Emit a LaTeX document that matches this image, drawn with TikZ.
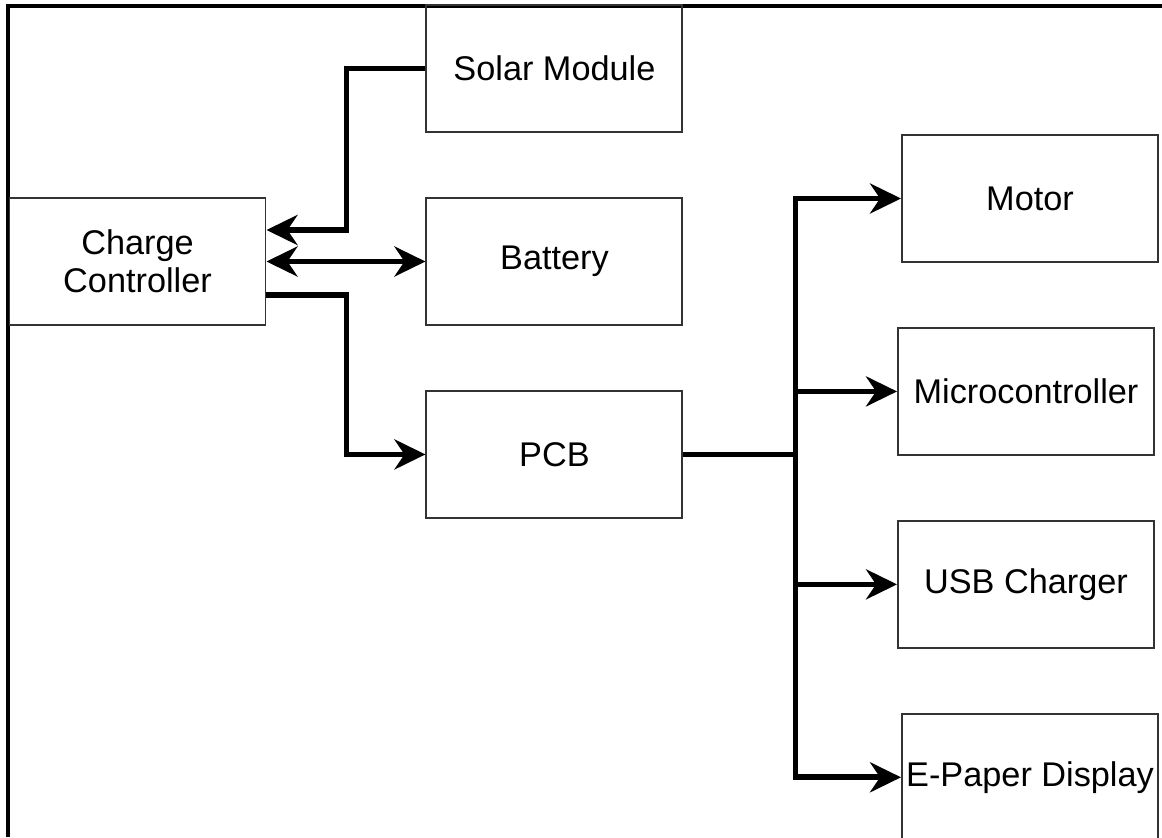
\documentclass[tikz,border=0pt]{standalone}
\usepackage{fontspec}
\setmainfont{Liberation Sans}
\usepackage{xcolor}
\usepackage{tikz}
\usetikzlibrary{arrows.meta, positioning}
\definecolor{edge}{HTML}{333333}

\begin{document}
\begin{tikzpicture}[node distance=1.28cm, >={Stealth[length=0.62cm, width=0.6cm, inset=0.2cm]}]
  \tikzstyle{blk}=[rectangle, minimum width=5.12cm, minimum height=2.54cm,
                   inner sep=2pt, text centered, align=center, draw=edge,
                   line width=1.1pt, font=\fontsize{19.5}{21.6}\selectfont]
  \tikzstyle{arr}=[->, line width=3.2pt, color=black]
  \useasboundingbox (0,0) rectangle (23.24,-16.74);
  \draw[line width=1.8pt] (0.16,-16.74) -- (0.16,-0.12) -- (23.24,-0.12);
  \node[blk](cc) at (2.75,-5.23){Charge\\Controller};
  \node[blk, right=3.18cm of cc](bat){Battery};
  \node[blk, above=of bat](solar){Solar Module};
  \node[blk, below=of bat](pcb){PCB};
  \node[blk](motor) at (20.6,-3.97){Motor};
  \node[blk, below=of motor, xshift=-0.08cm](mcu){Microcontroller};
  \node[blk, below=of mcu](usb){USB Charger};
  \node[blk, below=of usb, xshift=0.08cm](epd){E-Paper Display};
  \draw[arr](solar.west)--++(-1.58,0)|-([yshift=0.63cm]cc.east);
  \draw[arr, <->](cc.east)--(bat.west);
  \draw[arr]([yshift=-0.67cm]cc.east)--++(1.6,0)|-(pcb.west);
  \draw[arr](pcb.east)--++(2.24,0)|-(motor.west);
  \draw[arr](pcb.east)--++(2.24,0)|-(mcu.west);
  \draw[arr](pcb.east)--++(2.24,0)|-(usb.west);
  \draw[arr](pcb.east)--++(2.24,0)|-(epd.west);
\end{tikzpicture}
\end{document}
